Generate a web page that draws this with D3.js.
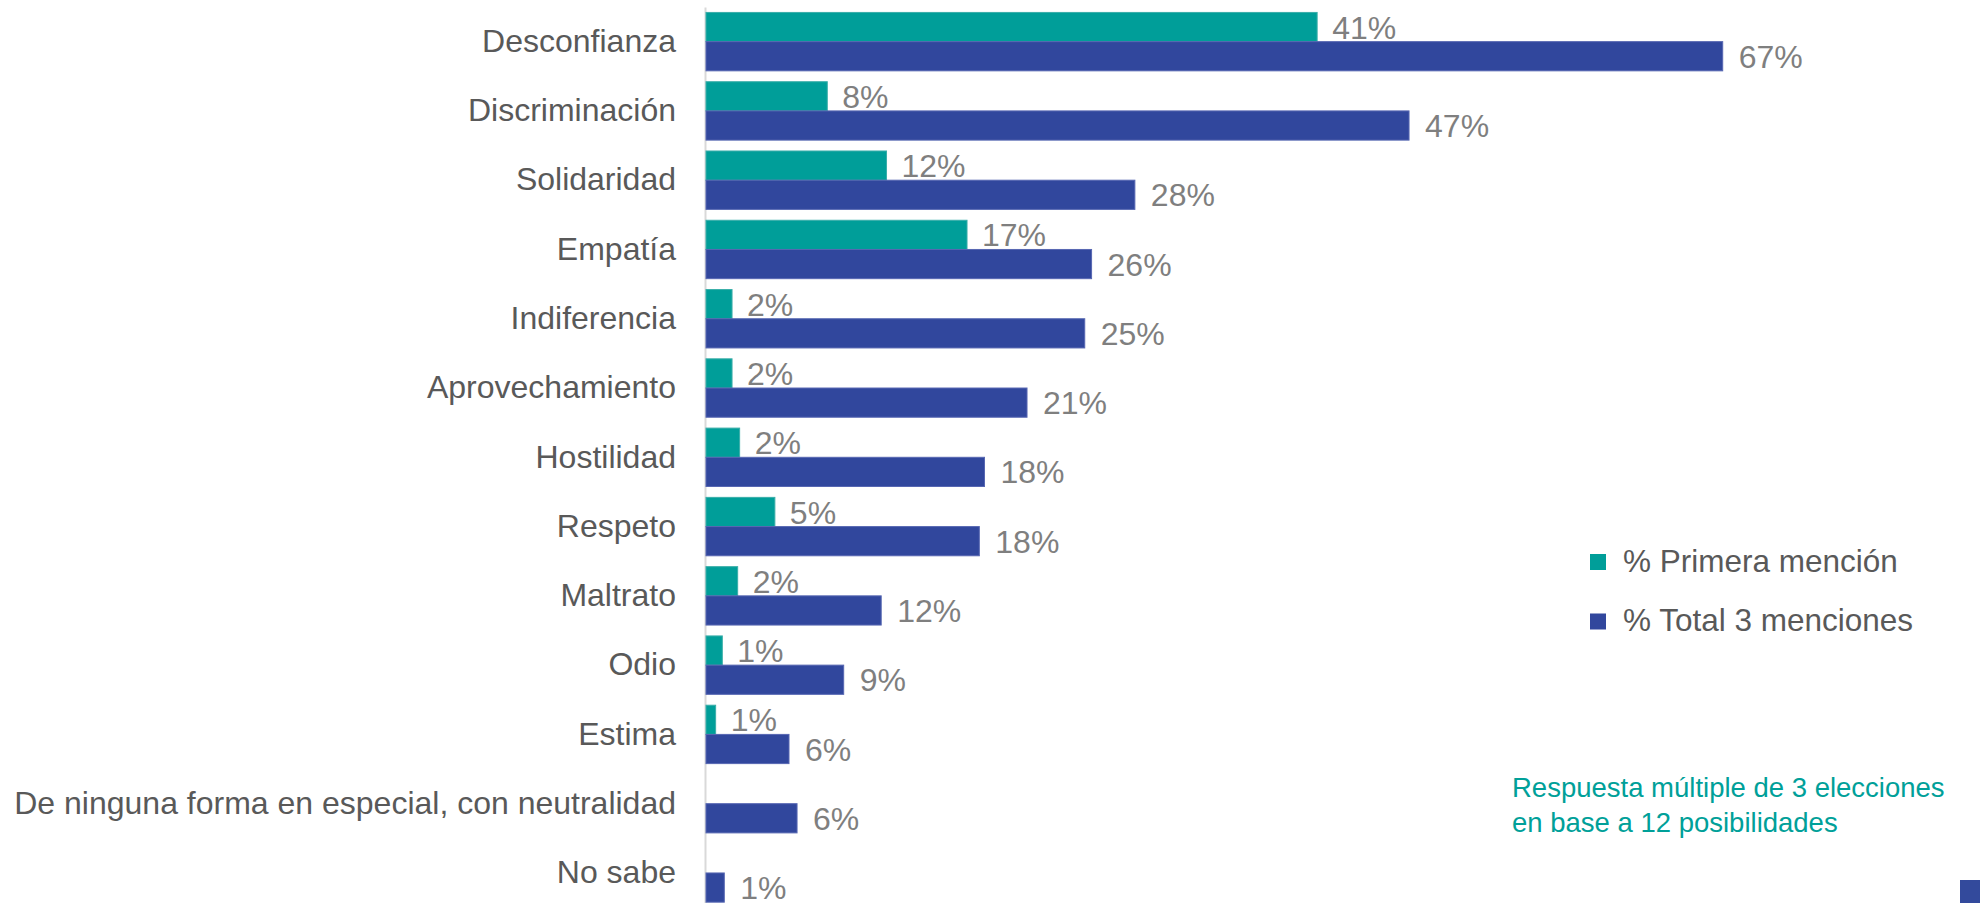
<!DOCTYPE html>
<html>
<head>
<meta charset="utf-8">
<script src="https://cdn.jsdelivr.net/npm/d3@7"></script>
<style>
  html, body { margin: 0; padding: 0; background: #fff; }
  svg { display: block; font-family: "Liberation Sans", Arial, sans-serif; }
</style>
</head>
<body>
<svg id="chart" width="1980" height="903"></svg>
<script>
// categories, top to bottom
const categories = [
  "Desconfianza",
  "Discriminación",
  "Solidaridad",
  "Empatía",
  "Indiferencia",
  "Aprovechamiento",
  "Hostilidad",
  "Respeto",
  "Maltrato",
  "Odio",
  "Estima",
  "De ninguna forma en especial, con neutralidad",
  "No sabe",
];

// bar lengths (%)
const primeraMencion = [40.3, 8.05, 11.95, 17.25, 1.78, 1.78, 2.28, 4.6, 2.15, 1.14, 0.7, 0, 0];
const totalMenciones = [67.0, 46.35, 28.3, 25.45, 25.0, 21.2, 18.4, 18.06, 11.6, 9.13, 5.53, 6.06, 1.27];

// data labels as printed
const primeraLabels = ["41%", "8%", "12%", "17%", "2%", "2%", "2%", "5%", "2%", "1%", "1%", "", ""];
const totalLabels = ["67%", "47%", "28%", "26%", "25%", "21%", "18%", "18%", "12%", "9%", "6%", "6%", "1%"];

const seriesNames = ["% Primera mención", "% Total 3 menciones"];
const noteLines = ["Respuesta múltiple de 3 elecciones", "en base a 12 posibilidades"];

const tealColor = "#009e99";
const blueColor = "#31479d";
const labelGrey = "#7f7f7f";
const textGrey = "#595959";

const axisX = 705;

const svg = d3.select("#chart");

const y = d3.scaleBand()
  .domain(categories)
  .range([7, 907.6])
  .paddingInner(0.157)
  .paddingOuter(0.0785);

const sub = d3.scaleBand()
  .domain(["primera", "total"])
  .range([0, y.bandwidth()]);

const x = d3.scaleLinear()
  .domain([0, 67])
  .range([axisX, 1722.7]);

const rows = categories.map((c, i) => ({
  cat: c,
  primera: primeraMencion[i],
  total: totalMenciones[i],
  primeraLabel: primeraLabels[i],
  totalLabel: totalLabels[i],
}));

// category axis
const yAxis = svg.append("g")
  .attr("transform", `translate(${axisX},0)`)
  .call(d3.axisLeft(y).tickSize(0).tickPadding(29));
yAxis.select(".domain")
  .attr("stroke", "#d9d9d9")
  .attr("stroke-width", 2);
yAxis.selectAll(".tick text")
  .attr("fill", textGrey)
  .style("font-size", "32px")
  .style("font-family", '"Liberation Sans", Arial, sans-serif');

const groups = svg.append("g")
  .selectAll(".row")
  .data(rows)
  .enter()
  .append("g")
  .attr("class", "row")
  .attr("transform", (d) => `translate(0,${y(d.cat)})`);

// teal bars
groups.filter((d) => d.primera > 0)
  .append("rect")
  .attr("x", x(0) + 1)
  .attr("y", sub("primera"))
  .attr("width", (d) => x(d.primera) - x(0) - 1)
  .attr("height", sub.bandwidth())
  .attr("fill", tealColor)
  .attr("stroke", "#3aaea9")
  .attr("stroke-width", 1);

// blue bars
groups.append("rect")
  .attr("x", x(0) + 1)
  .attr("y", sub("total"))
  .attr("width", (d) => x(d.total) - x(0) - 1)
  .attr("height", sub.bandwidth())
  .attr("fill", blueColor)
  .attr("stroke", "#5767b2")
  .attr("stroke-width", 1);

// data labels
groups.filter((d) => d.primeraLabel !== "")
  .append("text")
  .attr("x", (d) => x(d.primera) + 15)
  .attr("y", sub("primera") + sub.bandwidth() / 2)
  .attr("dy", "0.36em")
  .attr("fill", labelGrey)
  .style("font-size", "32px")
  .text((d) => d.primeraLabel);

groups.append("text")
  .attr("x", (d) => x(d.total) + 16)
  .attr("y", sub("total") + sub.bandwidth() / 2)
  .attr("dy", "0.36em")
  .attr("fill", labelGrey)
  .style("font-size", "32px")
  .text((d) => d.totalLabel);

// legend
const legend = svg.append("g").attr("transform", "translate(1590,554)");
const legendItems = legend.selectAll("g")
  .data(seriesNames)
  .enter()
  .append("g")
  .attr("transform", (d, i) => `translate(0,${i * 59.5})`);
legendItems.append("rect")
  .attr("width", 16)
  .attr("height", 16)
  .attr("fill", (d, i) => (i === 0 ? tealColor : blueColor));
legendItems.append("text")
  .attr("x", 33)
  .attr("y", 17.5)
  .attr("fill", textGrey)
  .style("font-size", "31.5px")
  .text((d) => d);

// note
svg.append("g")
  .selectAll("text")
  .data(noteLines)
  .enter()
  .append("text")
  .attr("x", 1512)
  .attr("y", (d, i) => 797 + i * 35)
  .attr("fill", "#00a099")
  .style("font-size", "27.5px")
  .text((d) => d);

// slide corner mark
svg.append("rect")
  .attr("x", 1960)
  .attr("y", 880)
  .attr("width", 20)
  .attr("height", 23)
  .attr("fill", "#334a9c");
</script>
</body>
</html>
